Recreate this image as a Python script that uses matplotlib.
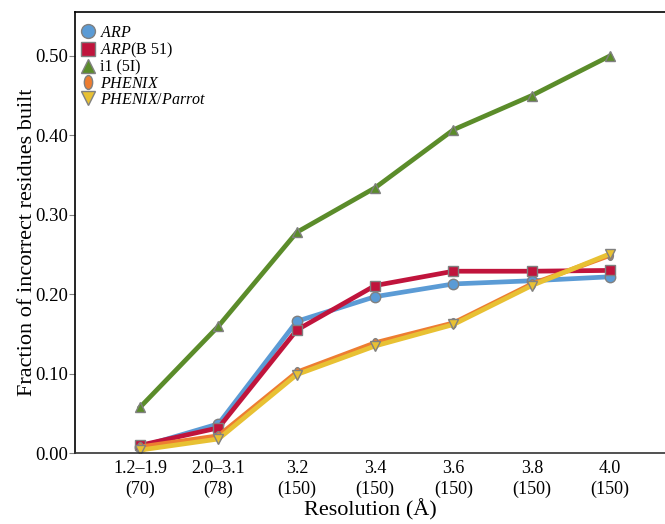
import numpy as np
import matplotlib
matplotlib.use("Agg")
import matplotlib.pyplot as plt
from matplotlib.path import Path
from matplotlib.transforms import Affine2D

plt.rcParams["font.family"] = ["Liberation Serif", "DejaVu Serif"]
plt.rcParams["mathtext.fontset"] = "custom"
plt.rcParams["mathtext.rm"] = "Liberation Serif"
plt.rcParams["mathtext.it"] = "Liberation Serif:italic"

resolutions = ["1.2\u20131.9\n(70)", "2.0\u20133.1\n(78)", "3.2\n(150)", "3.4\n(150)",
               "3.6\n(150)", "3.8\n(150)", "4.0\n(150)"]
arp = [0.008, 0.037, 0.166, 0.197, 0.213, 0.217, 0.222]
arp_b51 = [0.010, 0.032, 0.155, 0.211, 0.229, 0.229, 0.230]
i1 = [0.058, 0.160, 0.278, 0.334, 0.407, 0.450, 0.500]
phenix = [0.008, 0.022, 0.102, 0.139, 0.164, 0.213, 0.249]
phenix_parrot = [0.004, 0.018, 0.099, 0.135, 0.162, 0.211, 0.251]

yticks = [0.0, 0.1, 0.2, 0.3, 0.4, 0.5]

# vertical ellipse marker for PHENIX
ellipse = Path.unit_circle().transformed(Affine2D().scale(0.6, 1.0))

series = [
    (arp, r"$\mathit{ARP}$", "#5b9bd5", "o", 7.5),
    (arp_b51, r"$\mathit{ARP}\mathrm{(B\ 51)}$", "#c0143c", "s", 7.5),
    (i1, "i1 (5I)", "#5b8c2a", "^", 6.5),
    (phenix, r"$\mathit{PHENIX}$", "#ed7d31", ellipse, 7),
    (phenix_parrot, r"$\mathit{PHENIX/Parrot}$", "#e8c133", "v", 7),
]

fig = plt.figure(figsize=(6.65, 5.24), dpi=100)
ax = fig.add_axes([0.113, 0.135, 0.887, 0.842])

x = np.arange(len(resolutions))
for vals, label, color, marker, ms in series:
    ax.plot(x, vals, color=color, lw=3.4, marker=marker, markersize=ms,
            markerfacecolor=color, markeredgecolor="#808080", markeredgewidth=1.0,
            label=label)

ax.set_xlim(-0.83, 6.7)
ax.set_ylim(0, 0.555)
ax.set_xticks(x)
ax.set_xticklabels(resolutions, fontsize=13, linespacing=1.25)
ax.set_yticks(yticks)
ax.set_yticklabels(["%.2f" % v for v in yticks], fontsize=13.5)
ax.tick_params(axis="x", length=0, pad=5)
ax.tick_params(axis="y", length=4, pad=1.2, color="#808080", direction="out")
ax.spines["right"].set_visible(False)
for s in ["left", "top", "bottom"]:
    ax.spines[s].set_linewidth(1.2)
ax.spines["bottom"].set_color("#333333")

ax.set_xlabel("Resolution (\u00c5)", fontsize=16, labelpad=1)
ax.set_ylabel("Fraction of incorrect residues built", fontsize=16)
ax.yaxis.set_label_coords(-0.064, 0.478)

leg = ax.legend(loc="upper left", bbox_to_anchor=(-0.008, 0.997), frameon=False,
                fontsize=11.5, handlelength=0.8, handletextpad=0.35,
                labelspacing=0.0, borderaxespad=0.3)
for lh in leg.legend_handles:
    lh.set_linestyle("None")
    lh.set_markersize(10)

fig.savefig("out.png", dpi=100)
